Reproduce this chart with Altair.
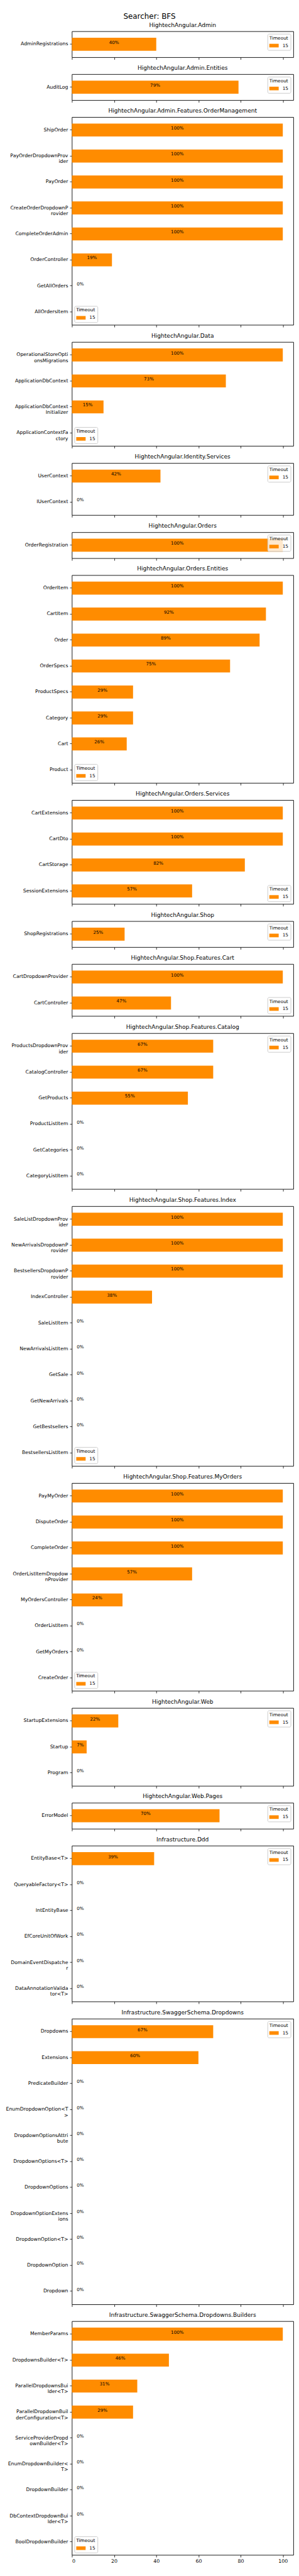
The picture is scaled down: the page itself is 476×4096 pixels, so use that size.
import altair as alt
import pandas as pd

S = 0.793
FONT = "DejaVu Sans"
ORANGE = "#ff8c00"

SUPTITLE = "Searcher: BFS"
TIMEOUT = "15"
X_TICKS = [0, 20, 40, 60, 80, 100]
X_MAX = 105

PANEL_TITLES = [
    "HightechAngular.Admin",
    "HightechAngular.Admin.Entities",
    "HightechAngular.Admin.Features.OrderManagement",
    "HightechAngular.Data",
    "HightechAngular.Identity.Services",
    "HightechAngular.Orders",
    "HightechAngular.Orders.Entities",
    "HightechAngular.Orders.Services",
    "HightechAngular.Shop",
    "HightechAngular.Shop.Features.Cart",
    "HightechAngular.Shop.Features.Catalog",
    "HightechAngular.Shop.Features.Index",
    "HightechAngular.Shop.Features.MyOrders",
    "HightechAngular.Web",
    "HightechAngular.Web.Pages",
    "Infrastructure.Ddd",
    "Infrastructure.SwaggerSchema.Dropdowns",
    "Infrastructure.SwaggerSchema.Dropdowns.Builders",
]

CLASSES = [
    ["AdminRegistrations"],
    ["AuditLog"],
    ["ShipOrder", "PayOrderDropdownProvider", "PayOrder", "CreateOrderDropdownProvider",
     "CompleteOrderAdmin", "OrderController", "GetAllOrders", "AllOrdersItem"],
    ["OperationalStoreOptionsMigrations", "ApplicationDbContext",
     "ApplicationDbContextInitializer", "ApplicationContextFactory"],
    ["UserContext", "IUserContext"],
    ["OrderRegistration"],
    ["OrderItem", "CartItem", "Order", "OrderSpecs", "ProductSpecs", "Category", "Cart", "Product"],
    ["CartExtensions", "CartDto", "CartStorage", "SessionExtensions"],
    ["ShopRegistrations"],
    ["CartDropdownProvider", "CartController"],
    ["ProductsDropdownProvider", "CatalogController", "GetProducts", "ProductListItem",
     "GetCategories", "CategoryListItem"],
    ["SaleListDropdownProvider", "NewArrivalsDropdownProvider", "BestsellersDropdownProvider",
     "IndexController", "SaleListItem", "NewArrivalsListItem", "GetSale", "GetNewArrivals",
     "GetBestsellers", "BestsellersListItem"],
    ["PayMyOrder", "DisputeOrder", "CompleteOrder", "OrderListItemDropdownProvider",
     "MyOrdersController", "OrderListItem", "GetMyOrders", "CreateOrder"],
    ["StartupExtensions", "Startup", "Program"],
    ["ErrorModel"],
    ["EntityBase<T>", "QueryableFactory<T>", "IntEntityBase", "EfCoreUnitOfWork",
     "DomainEventDispatcher", "DataAnnotationValidator<T>"],
    ["Dropdowns", "Extensions", "PredicateBuilder", "EnumDropdownOption<T>",
     "DropdownOptionsAttribute", "DropdownOptions<T>", "DropdownOptions",
     "DropdownOptionExtensions", "DropdownOption<T>", "DropdownOption", "Dropdown"],
    ["MemberParams", "DropdownsBuilder<T>", "ParallelDropdownsBuilder<T>",
     "ParallelDropdownBuilderConfiguration<T>", "ServiceProviderDropdownBuilder<T>",
     "EnumDropdownBuilder<T>", "DropdownBuilder", "DbContextDropdownBuilder<T>",
     "BoolDropdownBuilder"],
]

COVERAGE = [
    [40],
    [79],
    [100, 100, 100, 100, 100, 19, 0, 0],
    [100, 73, 15, 0],
    [42, 0],
    [100],
    [100, 92, 89, 75, 29, 29, 26, 0],
    [100, 100, 82, 57],
    [25],
    [100, 47],
    [67, 67, 55, 0, 0, 0],
    [100, 100, 100, 38, 0, 0, 0, 0, 0, 0],
    [100, 100, 100, 57, 24, 0, 0, 0],
    [22, 7, 0],
    [70],
    [39, 0, 0, 0, 0, 0],
    [67, 60, 0, 0, 0, 0, 0, 0, 0, 0, 0],
    [100, 46, 31, 29, 0, 0, 0, 0, 0],
]

LEGEND_ORIENT = [
    "top-right", "top-right", "bottom-left", "bottom-left", "top-right", "top-right",
    "bottom-left", "bottom-right", "top-right", "bottom-right", "top-right", "bottom-left",
    "bottom-left", "top-right", "top-right", "top-right", "top-right", "bottom-left",
]

UNIT = 52.36 * S
PLOT_W = 447 * S
WRAP = ("length(datum.label) > 20 ? [substring(datum.label, 0, 20), "
        "substring(datum.label, 20)] : datum.label")

panels = []
n_panels = len(PANEL_TITLES)
for i in range(n_panels):
    cls = CLASSES[i]
    cov = COVERAGE[i]
    last = i == n_panels - 1
    df = pd.DataFrame({"cls": cls, "cov": cov, "timeout": [TIMEOUT] * len(cls)})

    y_axis = alt.Axis(labelExpr=WRAP, labelLineHeight=9.4)
    y_enc = alt.Y("cls:N", sort=cls, title=None,
                  scale=alt.Scale(paddingInner=0.5, paddingOuter=0.25), axis=y_axis)
    x_scale = alt.Scale(domain=[0, X_MAX], nice=False, zero=True)
    x_axis = alt.Axis(values=X_TICKS, labels=last, format="d", labelFontSize=7.9)

    bars = alt.Chart(df).mark_bar().encode(
        x=alt.X("cov:Q", scale=x_scale, axis=x_axis, title=None),
        y=y_enc,
        color=alt.Color("timeout:N",
                        scale=alt.Scale(domain=[TIMEOUT], range=[ORANGE]),
                        legend=alt.Legend(title="Timeout", orient=LEGEND_ORIENT[i])),
    )
    text = alt.Chart(df).transform_calculate(
        lx="max(datum.cov / 2, 4)",
        lbl="format(datum.cov, 'd') + '%'",
    ).mark_text(font=FONT, fontSize=7.2, color="#000000", baseline="middle",
                align="center", dy=-2.8).encode(
        x=alt.X("lx:Q", scale=x_scale, axis=x_axis, title=None),
        y=y_enc,
        text="lbl:N",
    )
    panel = alt.layer(bars, text).properties(
        width=PLOT_W,
        height=UNIT * len(cls),
        title=alt.Title(PANEL_TITLES[i]),
    )
    panels.append(panel)

chart = alt.vconcat(*panels, spacing=33.5 * S, bounds="flush").resolve_scale(
    color="independent", y="independent"
).resolve_legend(color="independent").properties(
    title=alt.Title(SUPTITLE, fontSize=12, anchor="middle", frame="bounds", offset=2.5),
    padding={"left": 0, "right": 0, "top": 0, "bottom": 0},
).configure_view(
    stroke="#000000", strokeWidth=0.9
).configure_axis(
    labelFont=FONT, labelFontSize=7.8, labelColor="#000000",
    tickColor="#000000", tickSize=3.5, tickWidth=0.8,
    domain=False, grid=False, labelPadding=3,
).configure_title(
    font=FONT, fontSize=9.1, fontWeight="normal", color="#000000",
    anchor="middle", offset=5,
).configure_legend(
    titleFont=FONT, labelFont=FONT, titleFontSize=7.4, labelFontSize=7.4,
    titleFontWeight="normal", titleColor="#000000", labelColor="#000000",
    symbolType="M-1,-0.385L1,-0.385L1,0.385L-1,0.385Z", symbolSize=225,
    symbolStrokeWidth=0, strokeColor="#cccccc", fillColor="rgba(255,255,255,0.8)",
    padding=3, cornerRadius=2, offset=4, titlePadding=1, labelOffset=6,
    titleAnchor="middle",
)

chart.save("out.html", embed_options={"renderer": "svg", "actions": False})
